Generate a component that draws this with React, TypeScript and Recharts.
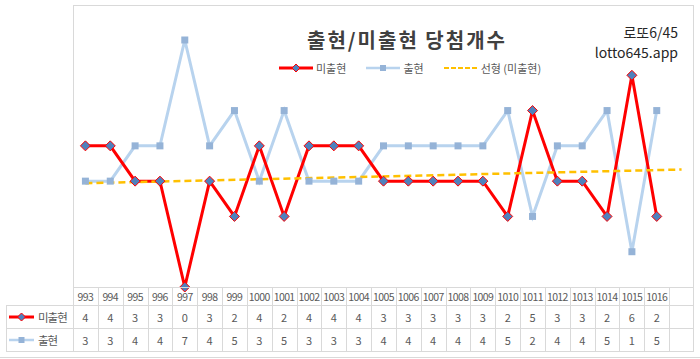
import React from 'react';
import { LineChart, Line, XAxis, YAxis } from 'recharts';

// rounds 993..1016
const rounds = ['993', '994', '995', '996', '997', '998', '999', '1000', '1001', '1002', '1003', '1004',
  '1005', '1006', '1007', '1008', '1009', '1010', '1011', '1012', '1013', '1014', '1015', '1016'];
const missCounts = [4, 4, 3, 3, 0, 3, 2, 4, 2, 4, 4, 4, 3, 3, 3, 3, 3, 2, 5, 3, 3, 2, 6, 2];
const hitCounts = [3, 3, 4, 4, 7, 4, 5, 3, 5, 3, 3, 3, 4, 4, 4, 4, 4, 5, 2, 4, 4, 5, 1, 5];
// linear trend of 미출현, start and one period forward
const trendEnds = [2.94, 3.33];

const slots = rounds.length + 1;
const chartData = Array.from({ length: slots }, (_, i) => ({
  i,
  miss: i < rounds.length ? missCounts[i] : null,
  hit: i < rounds.length ? hitCounts[i] : null,
  trend: i === 0 ? trendEnds[0] : i === slots - 1 ? trendEnds[1] : null,
}));

const W = 700;
const H = 359;
const plotLeft = 73;
const plotRight = 694;
const plotTop = 40;
const plotBottom = 287;
const colW = (plotRight - plotLeft) / slots;
const grid = '#D9D9D9';
const font = '"Noto Sans CJK KR", "Noto Sans", sans-serif';

const Diamond = (props: any) => {
  const { cx, cy, index } = props;
  if (cx == null || cy == null) return <g key={index} />;
  const r = 5;
  return (
    <path key={index} d={`M${cx},${cy - r}L${cx + r},${cy}L${cx},${cy + r}L${cx - r},${cy}Z`}
      fill="#4F81BD" stroke="#FF0000" strokeWidth={1} />
  );
};

const Square = (props: any) => {
  const { cx, cy, index } = props;
  if (cx == null || cy == null) return <g key={index} />;
  const s = 7;
  return <rect key={index} x={cx - s / 2} y={cy - s / 2} width={s} height={s} fill="#95B3D7" />;
};

const MissIcon = ({ w = 34 }: { w?: number }) => (
  <svg width={w} height={10} style={{ display: 'block' }}>
    <line x1={0} y1={5} x2={w} y2={5} stroke="#FF0000" strokeWidth={3} />
    <path d={`M${w / 2},1L${w / 2 + 4},5L${w / 2},9L${w / 2 - 4},5Z`} fill="#4F81BD" stroke="#FF0000" strokeWidth={1} />
  </svg>
);

const HitIcon = ({ w = 34 }: { w?: number }) => (
  <svg width={w} height={10} style={{ display: 'block' }}>
    <line x1={0} y1={5} x2={w} y2={5} stroke="#B8D3EE" strokeWidth={2.5} />
    <rect x={w / 2 - 3} y={2} width={6} height={6} fill="#95B3D7" />
  </svg>
);

const TrendIcon = () => (
  <svg width={34} height={10} style={{ display: 'block' }}>
    <line x1={0} y1={5} x2={34} y2={5} stroke="#FFC000" strokeWidth={2} strokeDasharray="5 2" />
  </svg>
);

const hLine = (x1: number, x2: number, y: number, key: string) => (
  <div key={key} style={{ position: 'absolute', left: x1, top: y, width: x2 - x1, height: 1, background: grid }} />
);
const vLine = (x: number, y1: number, y2: number, key: string) => (
  <div key={key} style={{ position: 'absolute', left: x, top: y1, width: 1, height: y2 - y1, background: grid }} />
);

const App: React.FC = () => {
  const rows = [
    { label: '미출현', icon: <MissIcon w={25} />, values: missCounts, top: 305 },
    { label: '출현', icon: <HitIcon w={25} />, values: hitCounts, top: 328 },
  ];

  return (
    <div style={{ position: 'absolute', left: 0, top: 0, width: W, height: H, background: '#fff', fontFamily: font, overflow: 'hidden' }}>
      {/* chart frame */}
      {hLine(plotLeft, plotRight, 5, 'ft')}
      {vLine(plotLeft, 5, plotBottom, 'fl')}
      {vLine(plotRight - 1, 5, plotBottom, 'fr')}
      {hLine(0, W, 357, 'fb')}

      <div style={{ position: 'absolute', left: 0, top: 0 }}>
        <LineChart width={W} height={H} data={chartData}
          margin={{ top: plotTop, right: W - plotRight, bottom: H - plotBottom, left: plotLeft }}>
          <XAxis dataKey="i" type="number" domain={[-0.5, slots - 0.5]} hide />
          <YAxis type="number" domain={[0, 7]} hide />
          <Line dataKey="hit" stroke="#B8D3EE" strokeWidth={3} dot={Square} activeDot={false}
            isAnimationActive={false} />
          <Line dataKey="miss" stroke="#FF0000" strokeWidth={3} dot={Diamond} activeDot={false}
            isAnimationActive={false} />
          <Line dataKey="trend" stroke="#FFC000" strokeWidth={2.5} strokeDasharray="7 4" dot={false}
            activeDot={false} connectNulls isAnimationActive={false} />
        </LineChart>
      </div>

      {/* title */}
      <div style={{ position: 'absolute', left: 296, top: 26, width: 222, textAlign: 'center', fontSize: 20, fontWeight: 700, color: '#404040', letterSpacing: 2, lineHeight: '28px' }}>
        출현/미출현 당첨개수
      </div>
      <div style={{ position: 'absolute', right: W - 678, top: 22, textAlign: 'right', fontSize: 14, color: '#262626', lineHeight: '20px' }}>
        로또6/45<br />lotto645.app
      </div>

      {/* legend */}
      <div style={{ position: 'absolute', left: 279, top: 60, display: 'flex', alignItems: 'center', fontSize: 11, color: '#595959', lineHeight: '16px' }}>
        <MissIcon /><span style={{ marginLeft: 3, marginRight: 20 }}>미출현</span>
        <HitIcon /><span style={{ marginLeft: 3, marginRight: 20 }}>출현</span>
        <TrendIcon /><span style={{ marginLeft: 3 }}>선형 (미출현)</span>
      </div>

      {/* data table */}
      {hLine(plotLeft, plotRight, 287, 't0')}
      {hLine(6, plotRight, 305, 't1')}
      {hLine(6, plotRight, 328, 't2')}
      {hLine(6, plotRight, 351, 't3')}
      {vLine(6, 305, 351, 'v0')}
      {Array.from({ length: slots + 1 }, (_, k) => vLine(Math.round(plotLeft + k * colW) - (k === slots ? 1 : 0), 287, 351, `v${k + 1}`))}
      {rounds.map((r, k) => (
        <div key={`h${r}`} style={{ position: 'absolute', left: plotLeft + k * colW, top: 288, width: colW, height: 17, lineHeight: '17px', textAlign: 'center', fontSize: 10.5, letterSpacing: -0.6, color: '#595959' }}>
          {r}
        </div>
      ))}
      {rows.map(row => (
        <React.Fragment key={row.label}>
          <div style={{ position: 'absolute', left: 9, top: row.top, height: 23, display: 'flex', alignItems: 'center', fontSize: 11.5, letterSpacing: -1, color: '#595959' }}>
            {row.icon}<span style={{ marginLeft: 4 }}>{row.label}</span>
          </div>
          {row.values.map((v, k) => (
            <div key={`${row.label}${k}`} style={{ position: 'absolute', left: plotLeft + k * colW, top: row.top + 1, width: colW, height: 22, lineHeight: '22px', textAlign: 'center', fontSize: 11, color: '#595959' }}>
              {v}
            </div>
          ))}
        </React.Fragment>
      ))}
    </div>
  );
};

export default App;
